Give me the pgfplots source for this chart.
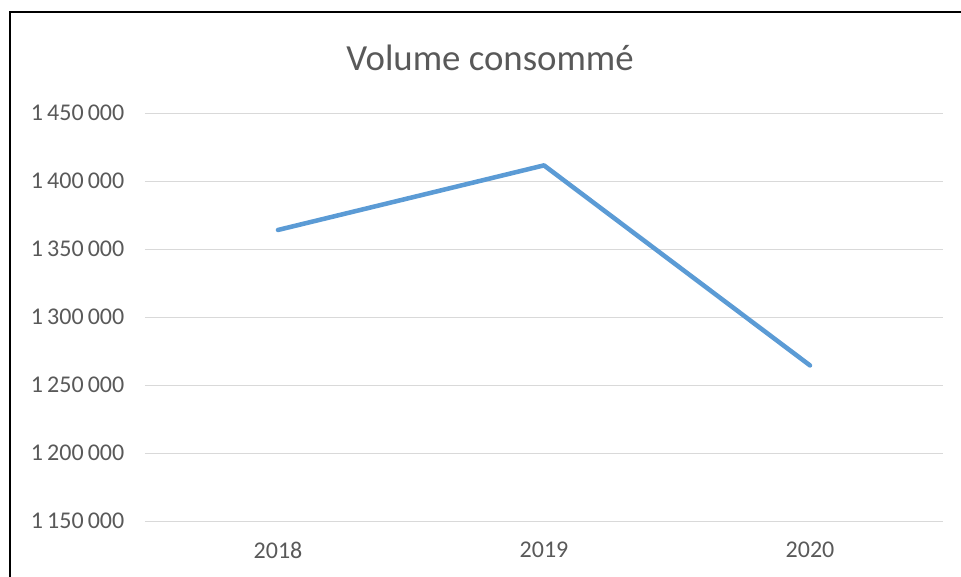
\documentclass[border=0pt]{standalone}
\usepackage{fontspec}
\setmainfont{Carlito}
\usepackage{pgfplots}
\pgfplotsset{compat=1.18}
\definecolor{serie}{HTML}{5B9BD5}
\definecolor{grille}{HTML}{D9D9D9}
\definecolor{texte}{HTML}{595959}

\begin{document}
\begin{tikzpicture}[x=0.75pt,y=0.75pt]
\path[use as bounding box] (0,0) rectangle (961,576);
% cadre (haut et gauche seulement)
\draw[line width=1.5pt, line cap=rect] (10,0) -- (10,564) -- (961,564);
\node[text=texte, font=\fontsize{27.6}{32}\selectfont] at (490,518) {Volume consommé};
\begin{axis}[
    at={(108.75pt,41.25pt)}, anchor=south west,
    scale only axis, width=598.5pt, height=306pt,
    xmin=-0.5, xmax=2.5,
    ymin=1150000, ymax=1450000,
    xtick={0,1,2}, xticklabels={2018,2019,2020},
    ytick={1150000,1200000,...,1450000},
    axis line style={draw=none},
    major tick length=0pt,
    ymajorgrids,
    grid style={grille, line width=0.75pt},
    tick label style={text=texte, font=\fontsize{18}{21}\selectfont},
    scaled y ticks=false,
    yticklabel style={xshift=-12pt,
      /pgf/number format/.cd, fixed, 1000 sep={\hspace{0.17em}}, assume math mode=true},
    xticklabel style={yshift=-12pt},
    clip=false
]
  \addplot[serie, line width=3.4pt, line join=round, line cap=round, mark=none]
    coordinates {(0,1364000) (1,1411500) (2,1264400)};
\end{axis}
\end{tikzpicture}
\end{document}
